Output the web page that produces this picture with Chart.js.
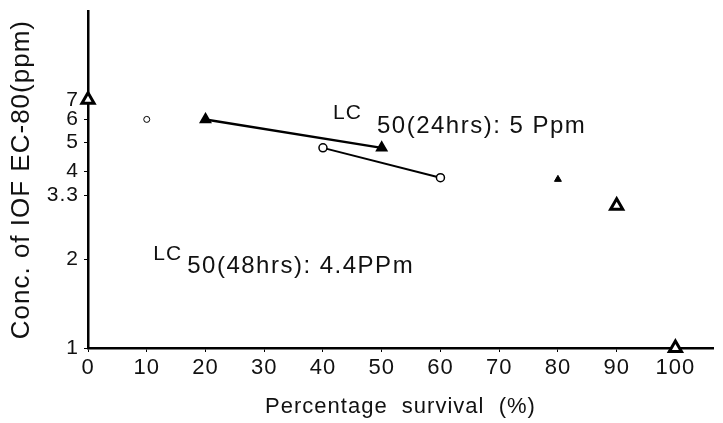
<!DOCTYPE html>
<html>
<head>
<meta charset="utf-8">
<script src="https://cdn.jsdelivr.net/npm/chart.js@4"></script>
<style>
    html, body { margin: 0; padding: 0; background: #fff; }
</style>
</head>
<body>
<canvas id="survivalChart" width="723" height="423"></canvas>
<script>
// Tick labels
const xTicks = [0, 10, 20, 30, 40, 50, 60, 70, 80, 90, 100];
const yTicks = [1, 2, 3.3, 4, 5, 6, 7];

// LC50 24 hrs line (filled triangles)
const lc24X = [20, 50];
const lc24Y = [6, 4.8];

// LC50 48 hrs line (open circles)
const lc48X = [40, 60];
const lc48Y = [4.8, 3.8];

// Isolated markers
const openTriX = [0, 90, 100];
const openTriY = [7, 3.05, 1];
const fillTriX = [80];
const fillTriY = [3.75];
const openCircX = [10];
const openCircY = [6];

const FONT = '"Liberation Sans", "DejaVu Sans", sans-serif';

function toPoints(xs, ys) {
    return xs.map((x, i) => ({ x: x, y: ys[i] }));
}

// The scanned lettering is widely spaced; keep that spacing for measuring and drawing
const spacingPlugin = {
    id: 'spacing',
    beforeLayout(chart) { chart.ctx.letterSpacing = '1px'; },
    beforeDraw(chart) { chart.ctx.letterSpacing = '1px'; }
};

// Draws the LC50 notes with a lowered "50" subscript
const notesPlugin = {
    id: 'notes',
    afterDatasetsDraw(chart) {
        const { ctx, scales } = chart;
        const notes = [
            { x: 41.7, y: 6.02, rest: '50(24hrs): 5 Ppm', dx: 44, dy: 14 },
            { x: 11.1, y: 1.99, rest: '50(48hrs): 4.4PPm', dx: 34, dy: 13 }
        ];
        ctx.save();
        ctx.fillStyle = '#111';
        ctx.textBaseline = 'alphabetic';
        ctx.textAlign = 'left';
        notes.forEach(n => {
            const px = scales.x.getPixelForValue(n.x);
            const py = scales.y.getPixelForValue(n.y);
            ctx.letterSpacing = '1px';
            ctx.font = '21px ' + FONT;
            ctx.fillText('LC', px, py);
            ctx.letterSpacing = '1.5px';
            ctx.font = '24px ' + FONT;
            ctx.fillText(n.rest, px + n.dx, py + n.dy);
        });
        ctx.restore();
    }
};

const ctx = document.getElementById('survivalChart').getContext('2d');

new Chart(ctx, {
    type: 'scatter',
    data: {
        datasets: [
            {
                data: toPoints(lc24X, lc24Y),
                showLine: true,
                borderColor: '#000',
                borderWidth: 2.5,
                pointStyle: 'triangle',
                pointRadius: 5,
                pointBackgroundColor: '#000',
                pointBorderColor: '#000',
                clip: false
            },
            {
                data: toPoints(lc48X, lc48Y),
                showLine: true,
                borderColor: '#000',
                borderWidth: 2,
                pointStyle: 'circle',
                pointRadius: 4,
                pointBackgroundColor: '#fff',
                pointBorderColor: '#000',
                pointBorderWidth: 1.5,
                clip: false
            },
            {
                data: toPoints(openTriX, openTriY),
                showLine: false,
                pointStyle: 'triangle',
                pointRadius: 7,
                pointBackgroundColor: '#fff',
                pointBorderColor: '#000',
                pointBorderWidth: 3,
                clip: false
            },
            {
                data: toPoints(fillTriX, fillTriY),
                showLine: false,
                pointStyle: 'triangle',
                pointRadius: 4,
                pointBackgroundColor: '#000',
                pointBorderColor: '#000',
                clip: false
            },
            {
                data: toPoints(openCircX, openCircY),
                showLine: false,
                pointStyle: 'circle',
                pointRadius: 3,
                pointBackgroundColor: '#fff',
                pointBorderColor: '#000',
                pointBorderWidth: 1,
                clip: false
            }
        ]
    },
    options: {
        responsive: false,
        animation: false,
        layout: { padding: { top: 10, right: 0, bottom: 0, left: 0 } },
        plugins: {
            legend: { display: false },
            tooltip: { enabled: false }
        },
        scales: {
            x: {
                type: 'linear',
                min: 0,
                max: 106.4,
                afterBuildTicks: (scale) => {
                    scale.ticks = xTicks.map(v => ({ value: v }));
                },
                afterFit: (scale) => { scale.height = 75; },
                border: { color: '#000', width: 2.5 },
                grid: { drawOnChartArea: false, drawTicks: true, tickLength: 4, color: '#000' },
                ticks: {
                    color: '#111',
                    padding: 3,
                    font: { family: FONT, size: 22 }
                },
                title: {
                    display: true,
                    text: 'Percentage  survival  (%)',
                    color: '#111',
                    padding: { top: 0, bottom: 3 },
                    font: { family: FONT, size: 22 }
                }
            },
            y: {
                type: 'logarithmic',
                min: 1,
                max: 14,
                afterBuildTicks: (scale) => {
                    scale.ticks = yTicks.map(v => ({ value: v }));
                },
                afterFit: (scale) => { scale.width = 88; },
                border: { color: '#000', width: 2.5 },
                grid: { drawOnChartArea: false, drawTicks: true, tickLength: 4, color: '#000' },
                ticks: {
                    color: '#111',
                    padding: 5,
                    font: { family: FONT, size: 21, lineHeight: 0.6 },
                    callback: (value) => String(value)
                },
                title: {
                    display: true,
                    text: 'Conc. of IOF EC-80(ppm)',
                    color: '#111',
                    padding: { top: 6, bottom: 4 },
                    font: { family: FONT, size: 26 }
                }
            }
        }
    },
    plugins: [spacingPlugin, notesPlugin]
});
</script>
</body>
</html>
